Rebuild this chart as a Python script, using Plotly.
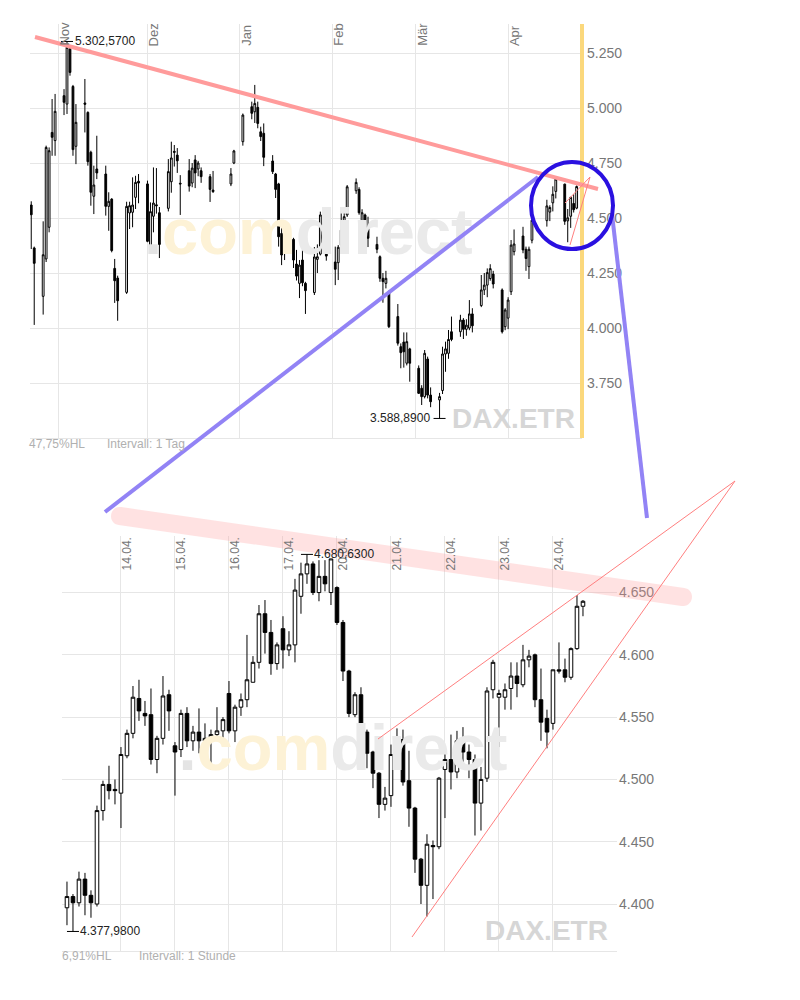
import math
import plotly.graph_objects as go

# ---------------- daily candles (top panel) ----------------
d_dates = ["2008-10-23","2008-10-24","2008-10-27","2008-10-28","2008-10-29","2008-10-30","2008-10-31",
           "2008-11-03","2008-11-04","2008-11-05","2008-11-06","2008-11-07","2008-11-10","2008-11-11",
           "2008-11-12","2008-11-13","2008-11-14","2008-11-17","2008-11-18","2008-11-19","2008-11-20",
           "2008-11-21","2008-11-24","2008-11-25","2008-11-26","2008-11-27","2008-11-28","2008-12-01",
           "2008-12-02","2008-12-03","2008-12-04","2008-12-05","2008-12-08","2008-12-09","2008-12-10",
           "2008-12-11","2008-12-12","2008-12-15","2008-12-16","2008-12-17","2008-12-18","2008-12-19",
           "2008-12-22","2008-12-23","2008-12-29","2008-12-30","2009-01-02","2009-01-05","2009-01-06",
           "2009-01-07","2009-01-08","2009-01-09","2009-01-12","2009-01-13","2009-01-14","2009-01-15",
           "2009-01-16","2009-01-19","2009-01-20","2009-01-21","2009-01-22","2009-01-23","2009-01-26",
           "2009-01-27","2009-01-28","2009-01-29","2009-01-30","2009-02-02","2009-02-03","2009-02-04",
           "2009-02-05","2009-02-06","2009-02-09","2009-02-10","2009-02-11","2009-02-12","2009-02-13",
           "2009-02-16","2009-02-17","2009-02-18","2009-02-19","2009-02-20","2009-02-23","2009-02-24",
           "2009-02-25","2009-02-26","2009-02-27","2009-03-02","2009-03-03","2009-03-04","2009-03-05",
           "2009-03-06","2009-03-09","2009-03-10","2009-03-11","2009-03-12","2009-03-13","2009-03-16",
           "2009-03-17","2009-03-18","2009-03-19","2009-03-20","2009-03-23","2009-03-24","2009-03-25",
           "2009-03-26","2009-03-27","2009-03-30","2009-03-31","2009-04-01","2009-04-02","2009-04-03",
           "2009-04-06","2009-04-07","2009-04-08","2009-04-09","2009-04-14","2009-04-15","2009-04-16",
           "2009-04-17","2009-04-20","2009-04-21","2009-04-22","2009-04-23","2009-04-24"]
d_open = [4559,4364,4144,4314,4458,4889,4852,
          5056,5018,5268,5098,4826,5023,4980,
          4799,4599,4723,4700,4553,4586,4271,
          4227,4162,4523,4526,4594,4667,4655,
          4352,4508,4560,4524,4544,4665,4803,
          4786,4658,4715,4659,4764,4723,4715,
          4688,4627,4655,4750,4847,5006,4983,
          5003,4892,4885,4759,4700,4655,4430,
          4390,4403,4291,4203,4309,4203,4161,
          4312,4336,4491,4413,4300,4297,4377,
          4438,4514,4624,4630,4483,4514,4453,
          4380,4324,4226,4203,4160,4052,3915,
          3936,3840,3905,3817,3726,3688,3859,
          3695,3673,3716,3882,3885,3983,3983,
          4036,3994,4000,4064,4102,4173,4195,
          4225,4245,4173,4006,4045,4165,4347,
          4418,4358,4279,4399,4488,4527,4569,
          4621,4654,4487,4508,4566,4545]
d_high = [4576,4370,4485,4829,4821,5041,5064,
          5086,5302.57,5276,5105,5018,5132,4985,
          4806,4738,4874,4738,4617,4590,4314,
          4238,4574,4574,4685,4692,4700,4670,
          4571,4730,4727,4550,4768,4847,4832,
          4818,4695,4768,4750,4786,4760,4730,
          4700,4714,4727,4810,4975,5029,5105,
          5029,4915,4930,4786,4705,4660,4455,
          4468,4410,4355,4309,4355,4210,4368,
          4380,4529,4506,4420,4370,4377,4533,
          4530,4650,4680,4640,4540,4520,4506,
          4415,4330,4250,4260,4170,4109,3930,
          3980,3980,3910,3830,3740,3900,3870,
          3730,3705,3915,3938,3991,4052,4060,
          4045,4040,4127,4090,4241,4250,4271,
          4290,4260,4180,4090,4140,4400,4448,
          4460,4370,4370,4500,4583,4558,4644,
          4681,4656,4541,4596,4608,4648]
d_low = [4359,4014,4061,4300,4435,4783,4783,
         4968,4973,5147,4783,4745,4889,4738,
         4556,4518,4677,4511,4442,4344,4114,
         4033,4155,4450,4458,4541,4567,4390,
         4344,4435,4520,4318,4530,4615,4734,
         4705,4514,4620,4640,4636,4690,4660,
         4573,4614,4645,4745,4829,4949,4932,
         4908,4850,4736,4700,4591,4370,4286,
         4309,4273,4216,4136,4190,4064,4150,
         4250,4330,4386,4306,4195,4218,4370,
         4420,4505,4610,4515,4440,4380,4368,
         4340,4210,4115,4180,4000,3920,3817,
         3820,3830,3756,3700,3650,3680,3680,
         3640,3588.89,3700,3801,3860,3940,3960,
         3950,3965,3990,3980,4095,4150,4140,
         4215,4180,3975,3990,3995,4150,4330,
         4340,4260,4223,4385,4461,4486,4530,
         4589,4469,4390,4455,4525,4540]
d_close = [4515,4294,4333,4821,4806,4867,4985,
           5026,5276,5162,4811,4935,5017,4756,
           4617,4650,4705,4553,4576,4352,4215,
           4124,4553,4556,4559,4662,4659,4394,
           4529,4568,4556,4380,4711,4773,4799,
           4760,4655,4645,4727,4705,4750,4688,
           4630,4620,4700,4805,4968,4976,5021,
           4930,4870,4776,4711,4630,4415,4332,
           4362,4309,4236,4286,4206,4170,4323,
           4324,4514,4423,4327,4267,4367,4445,
           4506,4642,4662,4524,4524,4408,4408,
           4358,4226,4211,4226,4006,3931,3888,
           3892,3938,3840,3703,3688,3885,3695,
           3665,3688,3882,3905,3948,3948,4036,
           3994,4013,4064,4010,4173,4195,4252,
           4270,4200,3983,4082,4127,4377,4382,
           4355,4316,4358,4490,4555,4548,4608,
           4677,4485,4501,4594,4538,4643]
month_starts = ["2008-11-01","2008-12-01","2009-01-01","2009-02-01","2009-03-01","2009-04-01"]
month_labels = ["Nov","Dez","Jan","Feb","Mär","Apr"]
top_yticks = [3750, 4000, 4250, 4500, 4750, 5000, 5250]

# ---------------- hourly candles (bottom panel) ----------------
h_days = ["09.04.","14.04.","15.04.","16.04.","17.04.","20.04.","21.04.","22.04.","23.04.","24.04."]
h_hours = ["09:00","10:00","11:00","12:00","13:00","14:00","15:00","16:00","17:00"]
h_last_day_hours = 6
h_open = [4397,4406,4401,4420,4407,4400,4475,4496,4492,
          4489,4519,4537,4565,4553,4552,4516,4533,4568,
          4527,4524,4553,4531,4538,4531,4533,4536,4539,
          4569,4539,4558,4564,4578,4594,4633,4618,4593,
          4621,4604,4608,4647,4665,4673,4650,4663,4650,
          4654,4626,4587,4552,4568,4538,4522,4505,4480,
          4487,4520,4532,4499,4477,4436,4415,4447,4446,
          4508,4516,4506,4531,4522,4516,4481,4501,4572,
          4566,4566,4573,4583,4576,4596,4600,4564,4549,
          4545,4588,4588,4582,4605,4639]
h_high = [4418,4408,4426,4425,4411,4479,4499,4511,4500,
          4526,4540,4575,4580,4563,4573,4535,4583,4572,
          4530,4556,4558,4543,4557,4545,4540,4558,4550,
          4579,4560,4569,4616,4599,4640,4644,4628,4610,
          4631,4619,4661,4674,4680.63,4675,4676,4676,4677,
          4655,4628,4588,4570,4574,4540,4523,4506,4494,
          4528,4541,4540,4523,4478,4437,4456,4451,4502,
          4522,4536,4539,4542,4528,4520,4510,4574,4596,
          4572,4577,4594,4594,4608,4604,4601,4589,4556,
          4588,4610,4597,4606,4648,4644]
h_low = [4383,4377.98,4398,4391,4389,4398,4467,4484,4480,
         4461,4517,4533,4547,4543,4512,4505,4528,4539,
         4487,4518,4526,4523,4521,4526,4508,4534,4530,
         4537,4530,4551,4558,4578,4589,4601,4584,4588,
         4589,4599,4594,4633,4657,4648,4643,4651,4640,
         4624,4579,4550,4550,4535,4509,4493,4469,4475,
         4478,4513,4495,4462,4425,4400,4390,4404,4444,
         4469,4492,4501,4513,4501,4455,4459,4498,4565,
         4526,4556,4556,4566,4574,4590,4558,4531,4525,
         4540,4585,4578,4580,4604,4631]
h_close = [4406,4401,4420,4407,4401,4475,4496,4491,4491,
           4520,4537,4566,4555,4551,4516,4533,4567,4555,
           4522,4553,4531,4538,4531,4533,4536,4539,4548,
           4539,4558,4564,4580,4594,4633,4618,4593,4608,
           4604,4608,4652,4665,4673,4650,4663,4657,4677,
           4626,4587,4553,4568,4538,4521,4505,4480,4485,
           4520,4532,4498,4477,4436,4415,4448,4446,4501,
           4516,4506,4531,4522,4516,4481,4500,4571,4594,
           4569,4572,4583,4577,4596,4599,4564,4546,4538,
           4588,4587,4582,4605,4639,4643]
bottom_yticks = [4400, 4450, 4500, 4550, 4600, 4650]

h_times = []
for i, d in enumerate(h_days):
    hrs = h_hours if i < len(h_days) - 1 else h_hours[:h_last_day_hours]
    h_times += [f"{d} {h}" for h in hrs]
h_day_starts = [f"{d} {h_hours[0]}" for d in h_days[1:]]

# ---------------- layout constants (pixels of the 800x1000 page) ----------------
OFF = 8                      # default body margin of the page
W, H = 800 - OFF, 1000 - OFF
def px(x): return (x - OFF) / W
def py(y): return 1 - (y - OFF) / H

GRID = "#e6e6e6"
FONT = "Liberation Sans"
TOP = dict(x0=30, x1=582, y0=24, y1=438)
BOT = dict(x0=62, x1=617, y0=536, y1=951)

def de(v, dec=4):
    s = f"{v:,.{dec}f}"
    return s.replace(",", "X").replace(".", ",").replace("X", ".")

fig = go.Figure()

# watermarks behind candles
wm = ("<span style='color:#e4e4e4'>.</span><span style='color:#fdf2d6'>com</span>"
      "<span style='color:#eaeaea'>direct</span>")
fig.add_trace(go.Scatter(x=["2009-01-24"], y=[4410], mode="text", text=[wm],
                         textfont=dict(family=FONT, size=65, weight="bold"),
                         xaxis="x", yaxis="y", hoverinfo="skip", showlegend=False))
fig.add_trace(go.Scatter(x=[h_times[46]], y=[4521], mode="text", text=[wm],
                         textfont=dict(family=FONT, size=65, weight="bold"),
                         xaxis="x2", yaxis="y2", hoverinfo="skip", showlegend=False))

candle_style = dict(
    increasing=dict(line=dict(color="black", width=1), fillcolor="white"),
    decreasing=dict(line=dict(color="black", width=1), fillcolor="black"),
    whiskerwidth=0, showlegend=False, hoverinfo="skip")
fig.add_trace(go.Candlestick(x=d_dates, open=d_open, high=d_high, low=d_low, close=d_close,
                             xaxis="x", yaxis="y", **candle_style))
fig.add_trace(go.Candlestick(x=h_times, open=h_open, high=h_high, low=h_low, close=h_close,
                             xaxis="x2", yaxis="y2", **candle_style))

fig.update_layout(
    width=W, height=H, margin=dict(l=0, r=0, t=0, b=0),
    paper_bgcolor="white", plot_bgcolor="white", separators=",.", showlegend=False,
    boxgap=0.3, boxgroupgap=0.15,
    xaxis=dict(domain=[px(TOP["x0"]), px(TOP["x1"])], type="date", anchor="y",
               range=["2008-10-22 14:00", "2009-04-25 19:00"],
               tickvals=month_starts, showticklabels=False, showgrid=True, gridcolor=GRID,
               zeroline=False, showline=True, linecolor=GRID, rangeslider=dict(visible=False)),
    yaxis=dict(domain=[py(TOP["y1"]), py(TOP["y0"])], anchor="x", side="right",
               range=[3500, 5382], tickvals=top_yticks, tickformat=",.0f",
               showgrid=True, gridcolor=GRID, zeroline=False,
               tickfont=dict(family=FONT, size=14, color="#777"), ticklabelstandoff=4),
    xaxis2=dict(domain=[px(BOT["x0"]), px(BOT["x1"])], type="category", anchor="y2",
                categoryorder="array", categoryarray=h_times, range=[-0.83, 91.67],
                tickvals=h_day_starts, showticklabels=False, showgrid=True, gridcolor=GRID,
                zeroline=False, showline=True, linecolor=GRID, rangeslider=dict(visible=False)),
    yaxis2=dict(domain=[py(BOT["y1"]), py(BOT["y0"])], anchor="x2", side="right",
                range=[4362.3, 4695.4], tickvals=bottom_yticks, tickformat=",.0f",
                showgrid=True, gridcolor=GRID, zeroline=False,
                tickfont=dict(family=FONT, size=14, color="#777"), ticklabelstandoff=1),
)

ann = []
# month labels (top)
for d, lab in zip(month_starts, month_labels):
    ann.append(dict(x=d, y=py(48), xref="x", yref="paper", text=lab, textangle=-90,
                    xanchor="left", yanchor="bottom", showarrow=False, xshift=-3,
                    font=dict(family=FONT, size=13, color="#777")))
# day labels (bottom)
for d, lab in zip(h_day_starts, h_days[1:]):
    ann.append(dict(x=d, y=py(572), xref="x2", yref="paper", text=lab, textangle=-90,
                    xanchor="left", yanchor="bottom", showarrow=False, xshift=-3,
                    font=dict(family=FONT, size=12, color="#777")))

shapes = []
# high / low markers
i_hi = max(range(len(d_high)), key=lambda i: d_high[i])
i_lo = min(range(len(d_low)), key=lambda i: d_low[i])
j_hi = max(range(len(h_high)), key=lambda i: h_high[i])
j_lo = min(range(len(h_low)), key=lambda i: h_low[i])
mark_font = dict(family=FONT, size=12, color="#222")
ann.append(dict(x=d_dates[i_hi], y=d_high[i_hi], xref="x", yref="y", text=de(d_high[i_hi]),
                xanchor="left", showarrow=False, xshift=6, font=mark_font))
ann.append(dict(x=d_dates[i_lo], y=d_low[i_lo], xref="x", yref="y", text=de(d_low[i_lo]),
                xanchor="right", showarrow=False, xshift=-8, font=mark_font))
ann.append(dict(x=h_times[j_hi], y=h_high[j_hi], xref="x2", yref="y2", text=de(h_high[j_hi]),
                xanchor="left", showarrow=False, xshift=5, font=mark_font))
ann.append(dict(x=h_times[j_lo], y=h_low[j_lo], xref="x2", yref="y2", text=de(h_low[j_lo]),
                xanchor="left", showarrow=False, xshift=5, font=mark_font))
for xr, yr, xv, yv in [("x", "y", d_dates[i_hi], d_high[i_hi]), ("x", "y", d_dates[i_lo], d_low[i_lo]),
                       ("x2", "y2", j_hi, h_high[j_hi]), ("x2", "y2", j_lo, h_low[j_lo])]:
    shapes.append(dict(type="line", xref=xr, yref=yr, x0=-6, x1=6, y0=yv, y1=yv,
                       xsizemode="pixel", xanchor=xv, line=dict(color="black", width=1)))

# footers
foot = dict(family=FONT, size=12, color="#b0b0b0")
for x, y, t in [(27, 444, "47,75%HL"), (105, 444, "Intervall: 1 Tag"),
                (60, 956, "6,91%HL"), (137, 956, "Intervall: 1 Stunde")]:
    ann.append(dict(x=px(x), y=py(y), xref="paper", yref="paper", text=t, xanchor="left",
                    yanchor="middle", showarrow=False, font=foot))
# DAX.ETR watermarks
for x, y in [(450, 418), (483, 930)]:
    ann.append(dict(x=px(x), y=py(y), xref="paper", yref="paper", text="<b>DAX.ETR</b>",
                    xanchor="left", yanchor="middle", showarrow=False,
                    font=dict(family=FONT, size=28, color="#d6d6d6")))

# ---------------- hand-drawn overlays ----------------
def seg(p, q, color, width):
    return dict(type="line", xref="paper", yref="paper", x0=px(p[0]), y0=py(p[1]),
                x1=px(q[0]), y1=py(q[1]), line=dict(color=color, width=width))

# pink band (rounded ends)
P1, P2, hw = (120, 516), (683, 597), 9
dx, dy = P2[0] - P1[0], P2[1] - P1[1]
L = math.hypot(dx, dy); ux, uy = dx / L, dy / L; nx, ny = -uy, ux
k = 4 / 3 * hw
A1 = (P1[0] + hw * nx, P1[1] + hw * ny); B1 = (P1[0] - hw * nx, P1[1] - hw * ny)
A2 = (P2[0] + hw * nx, P2[1] + hw * ny); B2 = (P2[0] - hw * nx, P2[1] - hw * ny)
def pt(p): return f"{px(p[0]):.5f},{py(p[1]):.5f}"
path = (f"M{pt(A1)} L{pt(A2)} C{pt((A2[0]+k*ux, A2[1]+k*uy))} {pt((B2[0]+k*ux, B2[1]+k*uy))} {pt(B2)} "
        f"L{pt(B1)} C{pt((B1[0]-k*ux, B1[1]-k*uy))} {pt((A1[0]-k*ux, A1[1]-k*uy))} {pt(A1)} Z")
shapes.append(dict(type="path", xref="paper", yref="paper", path=path,
                   fillcolor="rgba(255,150,150,0.28)", line=dict(width=0)))

# yellow "today" line
shapes.append(seg((582, 24), (582, 438), "#fbd87c", 4))
# top trend line (pink)
shapes.append(seg((35, 37), (598, 189), "#ff9b9b", 4))
# purple connector lines
shapes.append(seg((105, 512), (538, 177), "#9283f5", 4))
shapes.append(seg((612, 214), (647, 518), "#9283f5", 4))
# blue circle
shapes.append(dict(type="circle", xref="paper", yref="paper", x0=px(531), x1=px(613),
                   y0=py(249), y1=py(162), line=dict(color="#2a10e0", width=4)))
# thin red wedge lines
red = "#ff7f7f"
shapes.append(seg((565, 203), (590, 177), red, 1))
shapes.append(seg((570, 245), (590, 177), red, 1))
shapes.append(seg((378, 739), (735, 481), red, 1))
shapes.append(seg((412, 937), (735, 481), red, 1))

fig.update_layout(annotations=ann, shapes=shapes)
fig.write_html("out.html")
